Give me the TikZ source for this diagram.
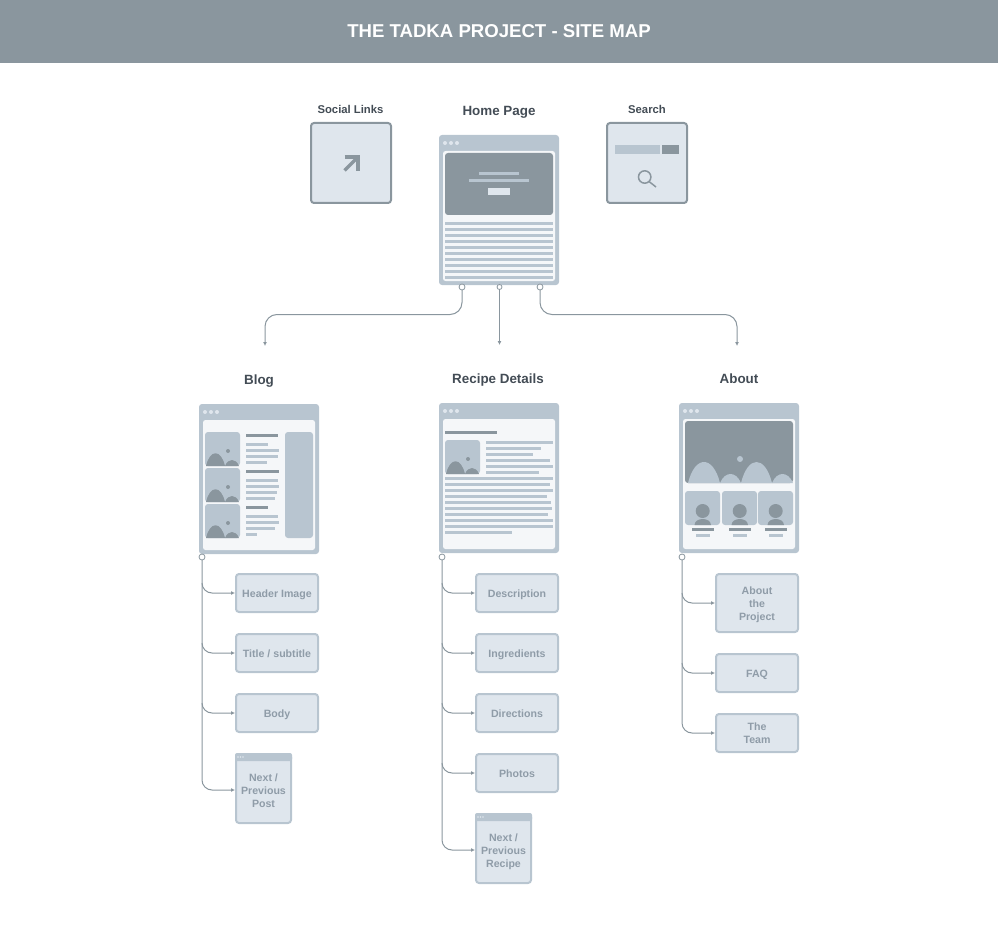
\documentclass[tikz,border=0pt]{standalone}
\usepackage{fontspec}
\setmainfont{Liberation Sans}
\usetikzlibrary{arrows.meta}
\definecolor{cdark}{HTML}{8A969E}
\definecolor{clight}{HTML}{B8C5D0}
\definecolor{cpale}{HTML}{DFE6ED}
\definecolor{cscreen}{HTML}{F5F7F9}
\definecolor{cink}{HTML}{434C55}
\definecolor{cchild}{HTML}{8F9CA8}
\tikzset{
  every node/.style={inner sep=0pt,outer sep=0pt},
  pageframe/.style={fill=clight,rounded corners=3pt,minimum width=120pt,minimum height=150pt},
  titlelabel/.style={text=cink,text height=11.5pt,text depth=0pt,font=\bfseries\fontsize{13.4}{16}\selectfont},
  smalllabel/.style={text=cink,text height=10pt,text depth=0pt,font=\bfseries\fontsize{11.3}{14}\selectfont},
  iconbox/.style={draw=cdark,line width=2pt,fill=cpale,rounded corners=3pt,minimum width=80pt,minimum height=80pt},
  childbox/.style={draw=clight,line width=2pt,fill=cpale,rounded corners=3pt,outer sep=1pt,
     text=cchild,text height=9pt,text depth=0pt,font=\bfseries\fontsize{10.6}{13}\selectfont},
  childtext/.style={text=cchild,align=center,font=\bfseries\fontsize{10.6}{13}\selectfont},
  port/.style={circle,draw=cdark,line width=0.8pt,fill=white,minimum size=6pt},
  conn/.style={draw=cdark,line width=1pt,rounded corners=10pt},
  connarrow/.style={conn,-{Latex[length=4pt,width=4pt]}},
}
\newcommand{\tbar}[4]{\fill[#4] (#1,#2) rectangle (#3,#2+3);}
\newcommand{\winframe}[3]{%
  \node[pageframe] (#1) at (#2+60,#3+75) {};
  \fill[cscreen,rounded corners=2.5pt] (#2+4,#3+16) rectangle (#2+116,#3+146);
  \foreach \d in {6,12,18} \fill[cpale] (#2+\d,#3+8) circle (2);
}
\newcommand{\thumb}[2]{%
  \begin{scope}[shift={(#1,#2)}]
    \fill[clight,rounded corners=3pt] (0,0) rectangle (35,34);
    \fill[cdark] (1,34) .. controls (5,17) and (16,17) .. (20,34) -- cycle;
    \fill[cdark] (20,34) .. controls (23,26) and (31,26) .. (34,34) -- cycle;
    \fill[cdark] (23,19) circle (2);
  \end{scope}}
\newcommand{\person}[2]{%
  \begin{scope}[shift={(#1,#2)}]
    \fill[clight,rounded corners=3pt] (0,0) rectangle (35,34);
    \fill[cdark] (17.7,20) circle (7);
    \fill[cdark] (9.5,34) .. controls (10,26) and (25.5,26) .. (26,34) -- cycle;
    \fill[cdark] (7,37) rectangle (29,40);
    \fill[clight] (11,43) rectangle (25,46);
  \end{scope}}
% upper branch: starts where its corner starts on the spine, so the spine is drawn only once
\newcommand{\branch}[2]{%
  \coordinate (j) at (#1.south |- #2.west);
  \draw[connarrow] ([yshift=10pt]j) |- (#2.west);}
\begin{document}
\begin{tikzpicture}[x=1pt,y=-1pt]
\useasboundingbox (0,0) rectangle (998,925);
% banner
\fill[cdark] (0,0) rectangle (998,63);
\node[text=white,font=\bfseries\fontsize{18.6}{22}\selectfont] (banner) at (499,31) {THE TADKA PROJECT - SITE MAP};
% labels
\node[smalllabel] (lsocial) at (350.5,108.7) {Social Links};
\node[titlelabel] (lhome) at (499,110) {Home Page};
\node[smalllabel] (lsearch) at (647,108.7) {Search};
\node[titlelabel] (lblog) at (259,379) {Blog};
\node[titlelabel] (lrecipe) at (498,378) {Recipe Details};
\node[titlelabel] (labout) at (739,378) {About};
% social box
\node[iconbox] (social) at (351,163) {};
\draw[cdark,line width=3.2pt] (344.5,170.5) -- (357.5,157.5);
\draw[cdark,line width=3.2pt] (344.5,157) -- (358,157) -- (358,171);
% search box
\node[iconbox] (search) at (647,163) {};
\fill[clight] (615,145) rectangle (660,154);
\fill[cdark] (662,145) rectangle (679,154);
\draw[cdark,line width=1.5pt] (644.7,177) circle (6.2);
\draw[cdark,line width=1.5pt] (649,181.5) -- (656,187);
% home page
\winframe{home}{439}{135}
\fill[cdark,rounded corners=3pt] (445,153) rectangle (553,215);
\fill[clight] (479,172) rectangle (519,175);
\fill[clight] (469,179) rectangle (529,182);
\fill[cpale] (488,188) rectangle (510,195);
\foreach \y in {222,228,...,276} \tbar{445}{\y}{553}{clight};
% blog page
\winframe{blog}{199}{404}
\thumb{205}{432}\thumb{205}{468}\thumb{205}{504}
\fill[clight,rounded corners=3pt] (285,432) rectangle (313,538);
\tbar{246}{434}{278}{cdark}\tbar{246}{470}{279}{cdark}\tbar{246}{506}{268}{cdark}
\foreach \y/\e in {443/268,449/279,455/278,461/267,479/278,485/279,491/277,497/275,515/278,521/279,527/275,533/257}
  \tbar{246}{\y}{\e}{clight};
% recipe page
\winframe{recipe}{439}{403}
\tbar{445}{431}{497}{cdark}
\thumb{445}{440}
\foreach \y/\e in {441/553,447/541,453/533,459/550,465/553,471/539}
  \tbar{486}{\y}{\e}{clight};
\foreach \y/\e in {477/553,483/550,489/553,495/547,501/551,507/552,513/548,519/553,525/553,531/512}
  \tbar{445}{\y}{\e}{clight};
% about page
\winframe{about}{679}{403}
\fill[cdark,rounded corners=3pt] (685,421) rectangle (793,483);
\fill[clight] (688,483) .. controls (695,455) and (713,455) .. (720,483) -- cycle;
\fill[clight] (720,483) .. controls (725,471) and (736,471) .. (741,483) -- cycle;
\fill[clight] (741,483) .. controls (748,455) and (765,455) .. (772,483) -- cycle;
\fill[clight] (772,483) .. controls (777,471) and (788,471) .. (793,483) -- cycle;
\fill[clight] (740,459) circle (3);
\person{685}{491}\person{722}{491}\person{758}{491}
% ports
\node[port] (p1) at (462,287) {};
\node[port,minimum size=5pt] (p2) at (499.5,287) {};
\node[port] (p3) at (540,287) {};
\node[port] (pb) at (202,557) {};
\node[port] (pr) at (442,557) {};
\node[port] (pa) at (682,557) {};
% blog children
\node[childbox,minimum width=82pt,minimum height=38pt] (b1) at (277,593) {Header Image};
\node[childbox,minimum width=82pt,minimum height=38pt] (b2) at (277,653) {Title / subtitle};
\node[childbox,minimum width=82pt,minimum height=38pt] (b3) at (277,713) {Body};
\node[childbox,minimum width=55pt,minimum height=69pt] (b4) at (263.5,788.5) {};
\fill[clight,rounded corners=2pt] (235,753) rectangle (292,761);
\foreach \d in {238,240.5,243} \fill[cpale] (\d,757) circle (0.9);
\node[childtext] (b4t) at (263.5,791) {Next /\\Previous\\Post};
% recipe children
\node[childbox,minimum width=82pt,minimum height=38pt] (r1) at (517,593) {Description};
\node[childbox,minimum width=82pt,minimum height=38pt] (r2) at (517,653) {Ingredients};
\node[childbox,minimum width=82pt,minimum height=38pt] (r3) at (517,713) {Directions};
\node[childbox,minimum width=82pt,minimum height=38pt] (r4) at (517,773) {Photos};
\node[childbox,minimum width=55pt,minimum height=69pt] (r5) at (503.5,848.5) {};
\fill[clight,rounded corners=2pt] (475,813) rectangle (532,821);
\foreach \d in {478,480.5,483} \fill[cpale] (\d,817) circle (0.9);
\node[childtext] (r5t) at (503.5,851.5) {Next /\\Previous\\Recipe};
% about children
\node[childbox,minimum width=82pt,minimum height=58pt] (a1) at (757,603) {};
\node[childtext] (a1t) at (757,605) {About\\the\\Project};
\node[childbox,minimum width=82pt,minimum height=38pt] (a2) at (757,673) {FAQ};
\node[childbox,minimum width=82pt,minimum height=38pt] (a3) at (757,733) {};
\node[childtext] (a3t) at (757,733) {The\\Team};
% connectors from home
\coordinate (busl) at (265,314.5);
\coordinate (busr) at (737,314.5);
\coordinate (endl) at (265,346);
\coordinate (endm) at (499.5,345);
\coordinate (endr) at (737,346);
\draw[connarrow,rounded corners=12pt] (p1.south) |- (busl) -- (endl);
\draw[connarrow] (p2.south) -- (endm);
\draw[connarrow,rounded corners=12pt] (p3.south) |- (busr) -- (endr);
% connectors to children
\branch{pb}{b1}\branch{pb}{b2}\branch{pb}{b3}
\draw[connarrow] (pb.south) |- ([yshift=-1.5pt]b4.west);
\branch{pr}{r1}\branch{pr}{r2}\branch{pr}{r3}\branch{pr}{r4}
\draw[connarrow] (pr.south) |- ([yshift=-1.5pt]r5.west);
\branch{pa}{a1}\branch{pa}{a2}
\draw[connarrow] (pa.south) |- (a3.west);
\end{tikzpicture}
\end{document}
